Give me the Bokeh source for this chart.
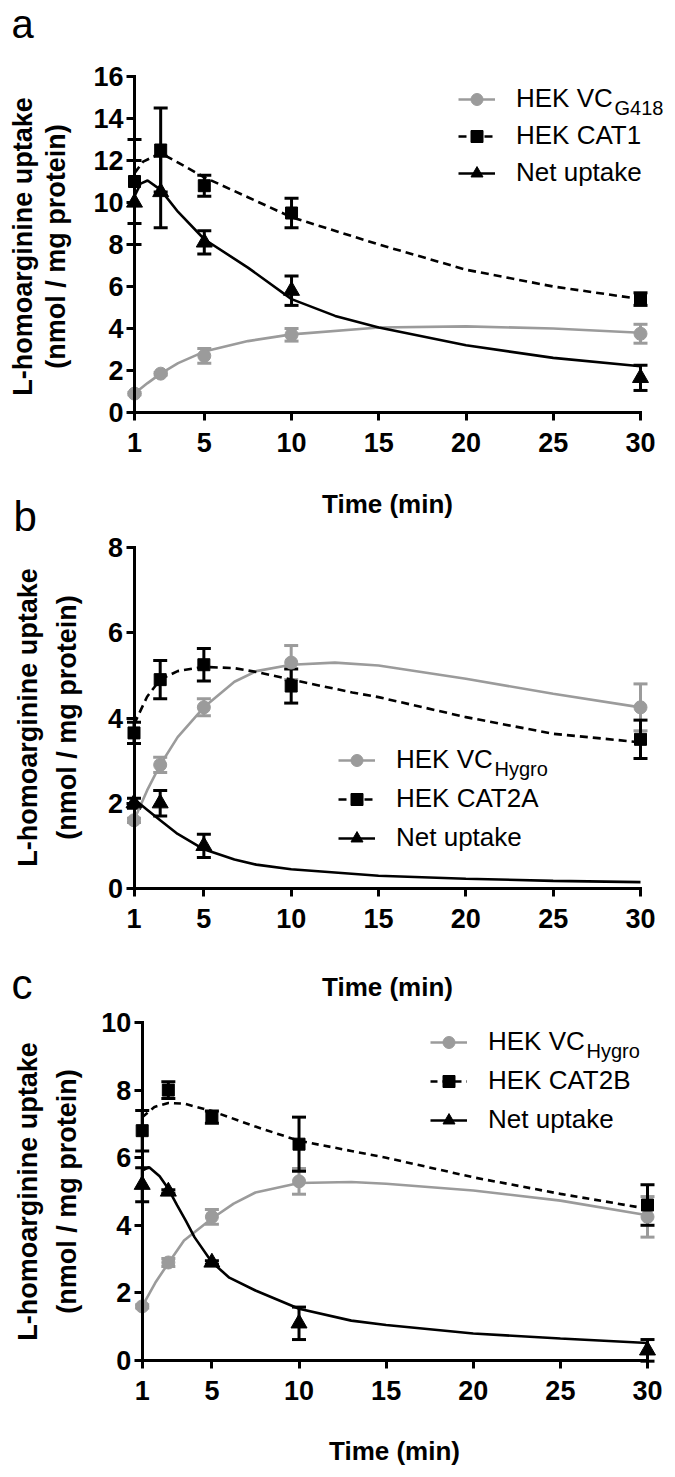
import math
from bokeh.plotting import figure
from bokeh.models import (ColumnDataSource, Whisker, TeeHead, FixedTicker, Legend,
                          LegendItem, Label, Range1d, LinearAxis)
from bokeh.embed import file_html
from bokeh.resources import INLINE

FONT = "Liberation Sans"
GRAY = "#9b9b9b"
BLACK = "#000000"

# ---------------- data ----------------
time_min = [1, 2.5, 5, 10, 30]
x_ticks = [1, 5, 10, 15, 20, 25, 30]
x_title = "Time (min)"
y_title_1 = "L-homoarginine uptake"
y_title_2 = "(nmol / mg protein)"

# panel a
a_y_ticks = [0, 2, 4, 6, 8, 10, 12, 14, 16]
a_vc_mean = [0.9, 1.85, 2.7, 3.7, 3.75]
a_vc_sem = [0.05, 0.06, 0.35, 0.3, 0.45]
a_cat_mean = [11.0, 12.5, 10.8, 9.5, 5.4]
a_cat_sem = [2.0, 2.0, 0.5, 0.7, 0.3]
a_net_t = [1, 2.5, 5, 10, 30]
a_net_mean = [10.0, 10.5, 8.1, 5.8, 1.65]
a_net_sem = [2.0, 1.7, 0.55, 0.7, 0.6]
a_vc_fit_t = [1, 1.75, 2.5, 3.5, 5, 7.5, 10, 15, 20, 25, 30]
a_vc_fit = [0.9, 1.4, 1.85, 2.35, 2.9, 3.4, 3.72, 4.05, 4.1, 4.0, 3.8]
a_cat_fit_t = [1, 1.5, 2.5, 3.5, 5, 7.5, 10, 15, 20, 25, 30]
a_cat_fit = [11.4, 11.95, 12.35, 11.9, 11.2, 10.25, 9.3, 8.0, 6.8, 6.0, 5.4]
a_net_fit_t = [1, 1.35, 1.75, 2.5, 3.5, 5, 7.5, 10, 12.5, 15, 20, 25, 30]
a_net_fit = [10.3, 10.9, 11.05, 10.6, 9.55, 8.25, 6.9, 5.4, 4.6, 4.05, 3.2, 2.6, 2.2]
a_labels = ["HEK VC", "HEK CAT1", "Net uptake"]
a_sub = "G418"

# panel b
b_y_ticks = [0, 2, 4, 6, 8]
b_vc_mean = [1.6, 2.9, 4.25, 5.3, 4.25]
b_vc_sem = [0.05, 0.18, 0.2, 0.4, 0.55]
b_cat_mean = [3.65, 4.9, 5.25, 4.75, 3.5]
b_cat_sem = [0.25, 0.45, 0.38, 0.4, 0.45]
b_net_t = [1, 2.5, 5]
b_net_mean = [2.0, 2.0, 1.0]
b_net_sem = [0.12, 0.3, 0.27]
b_vc_fit_t = [1, 1.75, 2.5, 3.5, 5, 6.75, 8, 10, 12.5, 15, 20, 25, 30]
b_vc_fit = [1.6, 2.3, 2.9, 3.55, 4.25, 4.85, 5.1, 5.25, 5.3, 5.23, 4.92, 4.57, 4.25]
b_cat_fit_t = [1, 1.75, 2.5, 3.5, 5, 6.75, 8, 10, 13.5, 15, 20, 25, 30]
b_cat_fit = [3.85, 4.5, 4.9, 5.1, 5.2, 5.17, 5.08, 4.9, 4.6, 4.49, 4.02, 3.63, 3.43]
b_net_fit_t = [1, 1.75, 2.5, 3.5, 5, 6.75, 8, 10, 15, 20, 25, 30]
b_net_fit = [2.1, 1.85, 1.6, 1.28, 0.92, 0.68, 0.56, 0.45, 0.3, 0.23, 0.18, 0.15]
b_labels = ["HEK VC", "HEK CAT2A", "Net uptake"]
b_sub = "Hygro"

# panel c
c_y_ticks = [0, 2, 4, 6, 8, 10]
c_vc_mean = [1.6, 2.9, 4.25, 5.3, 4.25]
c_vc_sem = [0.05, 0.12, 0.22, 0.38, 0.6]
c_cat_mean = [6.8, 8.0, 7.2, 6.4, 4.6]
c_cat_sem = [0.6, 0.25, 0.18, 0.8, 0.6]
c_net_t = [1, 2.5, 5, 10, 30]
c_net_mean = [5.2, 5.0, 2.9, 1.1, 0.3]
c_net_sem = [0.5, 0.05, 0.05, 0.48, 0.32]
c_vc_fit_t = [1, 1.75, 2.5, 3.4, 5, 6.25, 7.5, 10, 13, 15, 20, 25, 30]
c_vc_fit = [1.6, 2.3, 2.88, 3.55, 4.2, 4.64, 4.97, 5.25, 5.28, 5.23, 5.03, 4.73, 4.3]
c_cat_fit_t = [1, 1.7, 2.5, 3.4, 5, 7.5, 10, 13, 15, 20, 25, 30]
c_cat_fit = [7.2, 7.5, 7.62, 7.6, 7.38, 6.92, 6.5, 6.2, 6.0, 5.42, 4.93, 4.49]
c_net_fit_t = [1, 1.4, 2, 2.5, 3, 3.5, 4, 5, 6, 7.5, 10, 13, 15, 20, 25, 30]
c_net_fit = [5.62, 5.72, 5.45, 5.08, 4.6, 4.14, 3.65, 2.91, 2.45, 2.07, 1.53, 1.18, 1.05, 0.8, 0.65, 0.52]
c_labels = ["HEK VC", "HEK CAT2B", "Net uptake"]
c_sub = "Hygro"

# ---------------- layout (page pixels) ----------------
W, H = 672, 1474
MARGIN = 0


def scr(px, py):
    """page pixel -> screen units relative to the frame (which fills the canvas)"""
    return px - MARGIN, H - (py - MARGIN)


def ranges(px1, px30, py_top, py0, ymax):
    fx1, fx30 = px1 - MARGIN, px30 - MARGIN
    fyt, fy0 = py_top - MARGIN, py0 - MARGIN
    sx = (fx30 - fx1) / 29.0
    sy = (fy0 - fyt) / float(ymax)
    xr = Range1d(1 - fx1 / sx, 1 + (W - fx1) / sx)
    yr = Range1d(-(H - fy0) / sy, fy0 / sy)
    return xr, yr


xr_a, yr_a = ranges(134, 640, 76, 412, 16)
xr_b, yr_b = ranges(133.5, 640, 547, 888, 8)
xr_c, yr_c = ranges(141.7, 647, 1022, 1360, 10)

p = figure(width=W, height=H, output_backend="svg", toolbar_location=None,
           x_range=xr_a, y_range=yr_a, x_axis_location=None, y_axis_location=None,
           min_border=0)
p.extra_x_ranges = {"xb": xr_b, "xc": xr_c}
p.extra_y_ranges = {"yb": yr_b, "yc": yr_c}
p.grid.visible = False
p.outline_line_color = None
p.background_fill_color = "white"
p.border_fill_color = "white"


def style_axis(ax, standoff):
    ax.axis_line_width = 3
    ax.axis_line_color = BLACK
    ax.axis_line_cap = "square"
    ax.major_tick_line_width = 3
    ax.major_tick_line_color = BLACK
    ax.major_tick_in = 0
    ax.major_tick_out = 8
    ax.minor_tick_line_color = None
    ax.major_label_text_font = FONT
    ax.major_label_text_font_style = "bold"
    ax.major_label_text_font_size = "27px"
    ax.major_label_text_color = BLACK
    ax.major_label_standoff = standoff


def add_axes(xname, yname, ymax, yticks):
    xa = LinearAxis(x_range_name=xname, y_range_name=yname, fixed_location=0,
                    bounds=(1, 30), ticker=FixedTicker(ticks=x_ticks))
    ya = LinearAxis(x_range_name=xname, y_range_name=yname, fixed_location=1,
                    bounds=(0, ymax), ticker=FixedTicker(ticks=yticks))
    style_axis(xa, 12)
    style_axis(ya, 3)
    p.add_layout(xa, "below")
    p.add_layout(ya, "left")


def add_series(xname, yname, t, mean, sem, fit_t, fit, color, marker, size, dash):
    src = ColumnDataSource(dict(t=t, m=mean,
                                lo=[m - s for m, s in zip(mean, sem)],
                                hi=[m + s for m, s in zip(mean, sem)]))
    w = Whisker(source=src, base="t", lower="lo", upper="hi", line_color=color, line_width=3,
                x_range_name=xname, y_range_name=yname,
                upper_head=TeeHead(size=14, line_color=color, line_width=3),
                lower_head=TeeHead(size=14, line_color=color, line_width=3))
    p.add_layout(w)
    ln = p.line(fit_t, fit, line_color=color, line_width=2.6, line_dash=dash,
                x_range_name=xname, y_range_name=yname)
    sc = p.scatter("t", "m", source=src, marker=marker, size=size, fill_color=color,
                   line_color=color, x_range_name=xname, y_range_name=yname)
    return ln, sc


def text(t, px, py, size, bold=False, align="left", baseline="middle", angle=0.0):
    sx, sy = scr(px, py)
    p.add_layout(Label(x=sx, y=sy, x_units="screen", y_units="screen", text=t,
                       text_font=FONT, text_font_size=size,
                       text_font_style="bold" if bold else "normal",
                       text_align=align, text_baseline=baseline, angle=angle,
                       text_color=BLACK))


def add_legend(renderers, labels, sub, glyph_left, first_row, spacing):
    items = [LegendItem(label=lab, renderers=list(r)) for lab, r in zip(labels, renderers)]
    height = 3 * 30 + 2 * spacing
    top = first_row - 15
    lx, ly = scr(glyph_left, top + height)
    lg = Legend(items=items, location=(lx, ly), orientation="vertical", padding=0, margin=0,
                spacing=spacing, glyph_width=37, glyph_height=30, label_height=30,
                label_standoff=21, label_text_font=FONT, label_text_font_size="26px",
                label_text_color=BLACK, border_line_color=None, background_fill_alpha=0)
    p.add_layout(lg)
    text(sub, glyph_left + 37 + 21 + 98, first_row + 6, "20px")


def add_titles(cx, cy, l1x, l2x, mid_y):
    text(x_title, cx, cy, "26px", bold=True, align="center")
    text(y_title_1, l1x, mid_y, "27px", bold=True, align="center", angle=math.pi / 2)
    text(y_title_2, l2x, mid_y, "27px", bold=True, align="center", angle=math.pi / 2)


# ---------------- panel a ----------------
add_axes("default", "default", 16, a_y_ticks)
r1 = add_series("default", "default", time_min, a_vc_mean, a_vc_sem, a_vc_fit_t, a_vc_fit,
                GRAY, "circle", 13, "solid")
r2 = add_series("default", "default", time_min, a_cat_mean, a_cat_sem, a_cat_fit_t, a_cat_fit,
                BLACK, "square", 12, "8 5")
r3 = add_series("default", "default", a_net_t, a_net_mean, a_net_sem, a_net_fit_t, a_net_fit,
                BLACK, "triangle", 16, "solid")
add_legend([r1, r2, r3], a_labels, a_sub, 458, 101, 6)
add_titles(387, 503, 22, 55, 246)
text("a", 11, 23, "40px")

# ---------------- panel b ----------------
add_axes("xb", "yb", 8, b_y_ticks)
s1 = add_series("xb", "yb", time_min, b_vc_mean, b_vc_sem, b_vc_fit_t, b_vc_fit,
                GRAY, "circle", 13, "solid")
s2 = add_series("xb", "yb", time_min, b_cat_mean, b_cat_sem, b_cat_fit_t, b_cat_fit,
                BLACK, "square", 12, "8 5")
s3 = add_series("xb", "yb", b_net_t, b_net_mean, b_net_sem, b_net_fit_t, b_net_fit,
                BLACK, "triangle", 16, "solid")
add_legend([s1, s2, s3], b_labels, b_sub, 338, 762, 8)
add_titles(387, 986, 27, 66, 717)
text("b", 13, 516, "42px")

# ---------------- panel c ----------------
add_axes("xc", "yc", 10, c_y_ticks)
t1 = add_series("xc", "yc", time_min, c_vc_mean, c_vc_sem, c_vc_fit_t, c_vc_fit,
                GRAY, "circle", 13, "solid")
t2 = add_series("xc", "yc", time_min, c_cat_mean, c_cat_sem, c_cat_fit_t, c_cat_fit,
                BLACK, "square", 12, "7 5")
t3 = add_series("xc", "yc", c_net_t, c_net_mean, c_net_sem, c_net_fit_t, c_net_fit,
                BLACK, "triangle", 16, "solid")
add_legend([t1, t2, t3], c_labels, c_sub, 430, 1044, 8)
add_titles(394, 1450, 27, 66, 1191)
text("c", 11, 984, "42px")

open("out.html", "w").write(file_html(p, INLINE))
